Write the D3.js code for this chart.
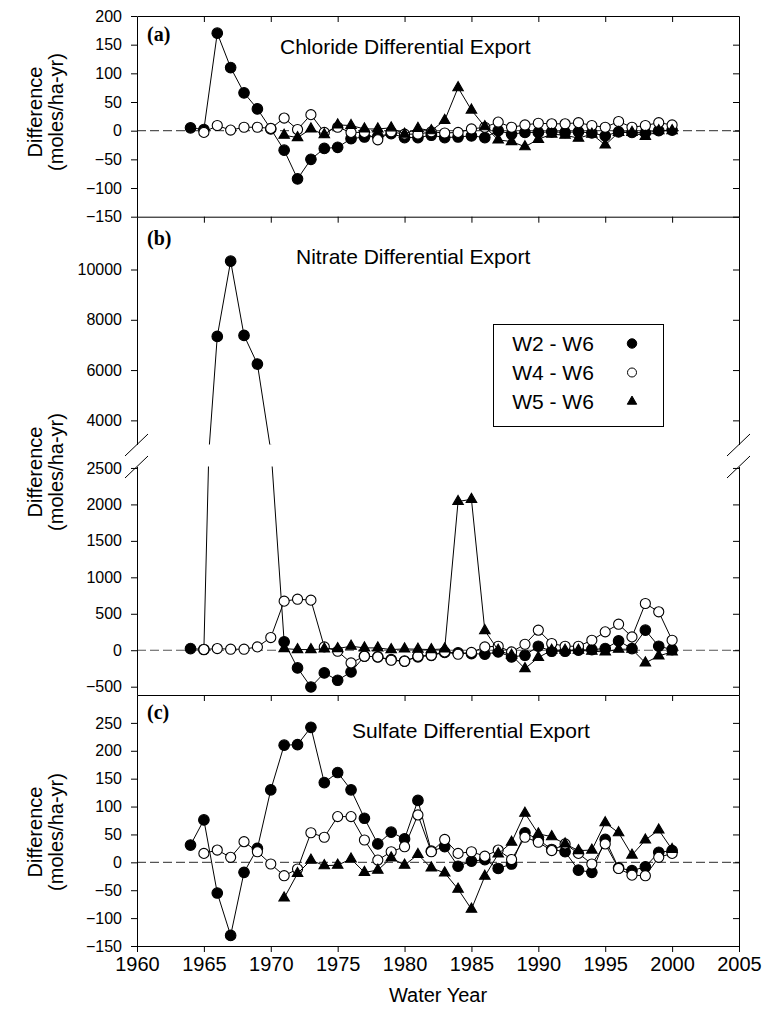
<!DOCTYPE html>
<html>
<head>
<meta charset="utf-8">
<script src="https://cdn.jsdelivr.net/npm/d3@7"></script>
<style>
body { margin: 0; background: #fff; }
svg text { font-family: "Liberation Sans", Arial, sans-serif; fill: #000; }
</style>
</head>
<body>
<svg id="chart" width="768" height="1015"></svg>
<script>
const years = [1964, 1965, 1966, 1967, 1968, 1969, 1970, 1971, 1972, 1973, 1974, 1975, 1976,
    1977, 1978, 1979, 1980, 1981, 1982, 1983, 1984, 1985, 1986, 1987, 1988, 1989, 1990,
    1991, 1992, 1993, 1994, 1995, 1996, 1997, 1998, 1999, 2000];

const seriesNames = ['W2 - W6', 'W4 - W6', 'W5 - W6'];

// chloride, 1964-2000 (null = no data)
const chlorideW2 = [5, 2, 170, 110, 66, 38, 3, -34, -84, -50, -31, -29, -14, -11, -10, -5, -12, -12, -8,
    -12, -11, -9, -12, 0, -6, -3, -3, -2, -3, -2, -4, -9, -2, -3, -4, 0, 1];
const chlorideW4 = [null, -3, 9, 1, 6, 6, 4, 22, 2, 28, -3, 6, -3, -3, -16, -2, -6, -6, -2,
    -4, -3, 3, 6, 15, 6, 10, 13, 12, 12, 14, 9, 6, 16, 6, 9, 14, 10];
const chlorideW5 = [null, null, null, null, null, null, null, -8, -12, 3, -7, 10, 9, 3, 3, 5, -6, 4, 0,
    18, 75, 36, 7, -16, -19, -28, -15, -6, -8, -13, -6, -25, -3, -3, -10, 0, 0];

// nitrate
const nitrateW2 = [23, 10, 7340, 10330, 7380, 6240, 2800, 115, -243, -504, -311, -412, -298, -82, -90, -130,
    -150, -90, -70, -30, -35, -46, -55, -23, -92, -69, 55, -14, -14, 0, 9, 23, 128, 23, 275, 55, 9];
const nitrateW4 = [null, 10, 23, 14, 14, 46, 174, 673, 700, 687, 46, -14, -174, -82, -92, -137, -151, -82,
    -69, -23, -55, -30, 46, 55, -23, 82, 275, 92, 55, 55, 137, 252, 357, 183, 641, 527, 137];
const nitrateW5 = [null, null, null, null, null, null, null, 23, 9, 9, 18, 23, 55, 32, 32, 9, 18, 14, 9,
    18, 2040, 2070, 270, 0, -69, -252, -100, 0, 0, 0, -14, -23, 14, 14, -174, -78, -23];

// sulfate
const sulfateW2 = [31, 76, -55, -131, -18, 25, 130, 210, 211, 242, 143, 161, 130, 79, 33, 54, 42, 111, 20,
    28, -7, 2, 5, -11, -3, 53, 41, 23, 19, -14, -18, 41, -10, -15, -8, 18, 21];
const sulfateW4 = [null, 16, 22, 9, 37, 19, -3, -24, -12, 53, 45, 82, 82, 40, 4, 19, 28, 85, 19,
    41, 16, 19, 11, 22, 5, 45, 36, 21, 33, 16, -3, 33, -11, -23, -24, 9, 16];
const sulfateW5 = [null, null, null, null, null, null, null, -64, -20, 4, -6, -5, 6, -18, -14, 8, -5, 14, -10,
    -19, -48, -84, -25, 15, 36, 88, 51, 46, 33, 21, 22, 71, 53, 13, 40, 58, 23];

const xTicks = [1960, 1965, 1970, 1975, 1980, 1985, 1990, 1995, 2000, 2005];
const chlorideTicks = [-150, -100, -50, 0, 50, 100, 150, 200];
const nitrateUpperTicks = [4000, 6000, 8000, 10000];
const nitrateLowerTicks = [-500, 0, 500, 1000, 1500, 2000, 2500];
const sulfateTicks = [-150, -100, -50, 0, 50, 100, 150, 200, 250];

const svg = d3.select('#chart');
const x = d3.scaleLinear().domain([1960, 2005]).range([137, 739]);
const innerTicks = xTicks.slice(1, -1);
const fmt = d3.format('d');

const symbols = [
    { type: d3.symbolCircle, size: 88, fill: '#000', stroke: '#000' },
    { type: d3.symbolCircle, size: 80, fill: '#fff', stroke: '#000' },
    { type: d3.symbolTriangle, size: 48, fill: '#000', stroke: '#000' }
];

let toSeries = (w2, w4, w5) => [w2, w4, w5].map((values, i) => ({
    name: seriesNames[i],
    symbol: symbols[i],
    points: years.map((year, j) => ({ year, value: values[j] })).filter((p) => p.value !== null)
}));

const chloride = toSeries(chlorideW2, chlorideW4, chlorideW5);
const nitrate = toSeries(nitrateW2, nitrateW4, nitrateW5);
const sulfate = toSeries(sulfateW2, sulfateW4, sulfateW5);

// one segment per y scale; nitrate panel is split by an axis break
const segments = [
    { id: 'a', y: d3.scaleLinear().domain([-150, 200]).range([216.7, 16]), ticks: chlorideTicks, series: chloride, top: true },
    { id: 'bUp', y: d3.scaleLinear().domain([3040, 12100]).range([444.5, 216.7]), ticks: nitrateUpperTicks, series: nitrate, top: true },
    { id: 'bLo', y: d3.scaleLinear().domain([-614, 2520]).range([695, 466.5]), ticks: nitrateLowerTicks, series: nitrate, top: false },
    { id: 'c', y: d3.scaleLinear().domain([-150, 300]).range([946, 695]), ticks: sulfateTicks, series: sulfate, top: true }
];

let styleAxis = (g, size) => {
    g.attr('font-family', '"Liberation Sans", Arial, sans-serif').attr('font-size', size);
    g.selectAll('path, line').attr('stroke', '#000').attr('stroke-width', 1);
};

segments.forEach((seg) => {
    let [y0, y1] = seg.y.range();
    let defs = svg.append('defs');
    defs.append('clipPath').attr('id', 'clip-' + seg.id)
        .append('rect')
        .attr('x', x.range()[0]).attr('y', y1)
        .attr('width', x.range()[1] - x.range()[0]).attr('height', y0 - y1);

    let plot = svg.append('g').attr('clip-path', `url(#clip-${seg.id})`);

    if (seg.y.domain()[0] < 0) {
        plot.append('line')
            .attr('x1', x(1960)).attr('x2', x(2005))
            .attr('y1', seg.y(0)).attr('y2', seg.y(0))
            .attr('stroke', '#555').attr('stroke-width', 1.2)
            .attr('stroke-dasharray', '9,4');
    }

    let line = d3.line().x((d) => x(d.year)).y((d) => seg.y(d.value));

    seg.series.forEach((s) => {
        plot.append('path')
            .attr('d', line(s.points))
            .attr('fill', 'none').attr('stroke', '#000').attr('stroke-width', 1);
        plot.selectAll(null).data(s.points).enter().append('path')
            .attr('transform', (d) => `translate(${x(d.year)},${seg.y(d.value)})`)
            .attr('d', d3.symbol().type(s.symbol.type).size(s.symbol.size))
            .attr('fill', s.symbol.fill).attr('stroke', s.symbol.stroke).attr('stroke-width', 1.1);
    });

    svg.append('g').attr('transform', `translate(${x.range()[0]},0)`)
        .call(d3.axisLeft(seg.y).tickValues(seg.ticks).tickFormat(fmt).tickSizeInner(6).tickSizeOuter(0).tickPadding(9))
        .call(styleAxis, 16);

    svg.append('g').attr('transform', `translate(${x.range()[1]},0)`)
        .call(d3.axisRight(seg.y).tickValues(seg.ticks).tickSizeInner(-6).tickSizeOuter(0).tickFormat(''))
        .call(styleAxis, 16);

    if (seg.top) {
        svg.append('g').attr('transform', `translate(0,${y1})`)
            .call(d3.axisBottom(x).tickValues(innerTicks).tickSizeInner(6).tickSizeOuter(0).tickFormat(''))
            .call(styleAxis, 16);
    }
});

// bottom x axis
svg.append('g').attr('transform', 'translate(0,946)')
    .call(d3.axisBottom(x).tickValues(xTicks).tickSizeInner(6).tickSizeOuter(0).tickPadding(5).tickFormat(fmt))
    .call(styleAxis, 20);

svg.append('text')
    .attr('x', (x.range()[0] + x.range()[1]) / 2).attr('y', 1002)
    .attr('text-anchor', 'middle').attr('font-size', 20)
    .text('Water Year');

// axis break marks on both sides of nitrate panel
const breakTop = segments[1].y.range()[0];
const breakBottom = segments[2].y.range()[1];
[x.range()[0], x.range()[1]].forEach((bx) => {
    [breakTop, breakBottom].forEach((by) => {
        svg.append('line')
            .attr('x1', bx - 12).attr('y1', by + 11.5)
            .attr('x2', bx + 11).attr('y2', by - 10.5)
            .attr('stroke', '#000').attr('stroke-width', 1);
    });
});

// panel labels, titles and y titles
const panelInfo = [
    { label: '(a)', title: 'Chloride Differential Export', labelY: 41, titleX: 280, titleY: 54, midY: 112 },
    { label: '(b)', title: 'Nitrate Differential Export', labelY: 245, titleX: 296, titleY: 264, midY: 472 },
    { label: '(c)', title: 'Sulfate Differential Export', labelY: 719, titleX: 352, titleY: 738, midY: 832 }
];

panelInfo.forEach((p) => {
    svg.append('text')
        .attr('x', 147).attr('y', p.labelY)
        .style('font-family', '"Liberation Serif", "Times New Roman", serif')
        .attr('font-weight', 'bold').attr('font-size', 20)
        .text(p.label);
    svg.append('text')
        .attr('x', p.titleX).attr('y', p.titleY)
        .attr('font-size', 21)
        .text(p.title);
    let yt = svg.append('text')
        .attr('transform', `translate(0,${p.midY}) rotate(-90)`)
        .attr('text-anchor', 'middle').attr('font-size', 20);
    yt.append('tspan').attr('x', 0).attr('y', 42).text('Difference');
    yt.append('tspan').attr('x', 0).attr('y', 63).text('(moles/ha-yr)');
});

// legend
const legend = svg.append('g');
legend.append('rect')
    .attr('x', 493.5).attr('y', 324.5).attr('width', 170).attr('height', 102)
    .attr('fill', '#fff').attr('stroke', '#000').attr('stroke-width', 1);
const legendRows = d3.scaleBand().domain(seriesNames).range([329, 416]);
nitrate.forEach((s) => {
    let cy = legendRows(s.name) + legendRows.bandwidth() / 2;
    legend.append('text')
        .attr('x', 553).attr('y', cy + 7.5)
        .attr('text-anchor', 'middle').attr('font-size', 21)
        .text(s.name);
    legend.append('path')
        .attr('transform', `translate(632,${cy})`)
        .attr('d', d3.symbol().type(s.symbol.type).size(s.symbol.size * 0.8))
        .attr('fill', s.symbol.fill).attr('stroke', s.symbol.stroke).attr('stroke-width', 1);
});
</script>
</body>
</html>
